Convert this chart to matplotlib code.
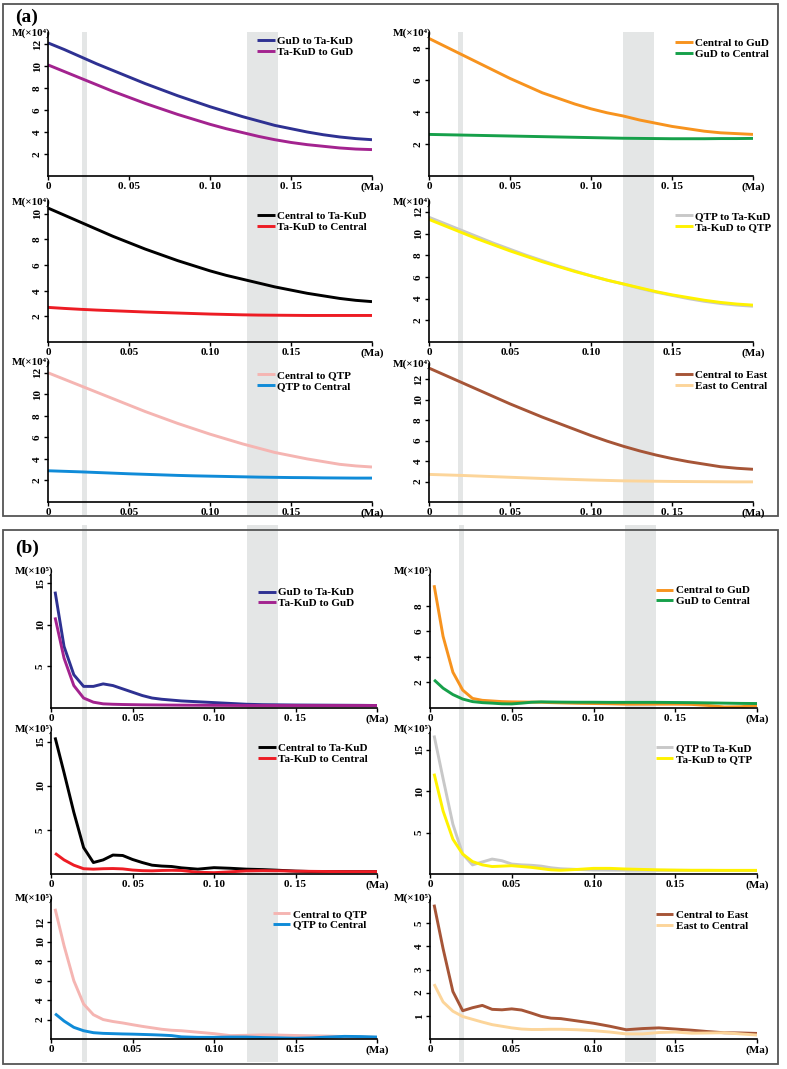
import matplotlib
matplotlib.use('Agg')
import matplotlib.pyplot as plt
from matplotlib.patches import Rectangle

plt.rcParams['font.family'] = ['Liberation Serif', 'DejaVu Serif']
plt.rcParams['font.weight'] = 'bold'

W, H = 787, 1069

# ---------------- data: panel (a) ----------------
time_a = [0.00, 0.01, 0.02, 0.03, 0.04, 0.05, 0.06, 0.07, 0.08, 0.09, 0.10,
          0.11, 0.12, 0.13, 0.14, 0.15, 0.16, 0.17, 0.18, 0.19, 0.20]

gud_to_takud_a = [12.1, 11.5, 10.85, 10.2, 9.6, 9.0, 8.4, 7.85, 7.3, 6.8, 6.3,
                  5.85, 5.4, 5.0, 4.6, 4.3, 4.0, 3.75, 3.55, 3.4, 3.3]
takud_to_gud_a = [10.1, 9.5, 8.9, 8.3, 7.7, 7.15, 6.6, 6.1, 5.6, 5.15, 4.7,
                  4.3, 3.95, 3.6, 3.3, 3.05, 2.85, 2.7, 2.55, 2.45, 2.4]
central_to_gud_a = [8.6, 8.1, 7.6, 7.1, 6.6, 6.1, 5.65, 5.2, 4.85, 4.5, 4.2,
                    3.95, 3.75, 3.5, 3.3, 3.1, 2.95, 2.8, 2.7, 2.65, 2.6]
gud_to_central_a = [2.60, 2.58, 2.56, 2.54, 2.52, 2.50, 2.48, 2.46, 2.44, 2.42, 2.40,
                    2.38, 2.36, 2.35, 2.34, 2.33, 2.33, 2.33, 2.34, 2.34, 2.35]
central_to_takud_a = [10.45, 9.9, 9.35, 8.8, 8.25, 7.75, 7.25, 6.8, 6.35, 5.95, 5.55,
                      5.2, 4.9, 4.6, 4.3, 4.05, 3.8, 3.6, 3.4, 3.25, 3.15]
takud_to_central_a = [2.70, 2.62, 2.55, 2.49, 2.44, 2.39, 2.34, 2.30, 2.26, 2.22, 2.18,
                      2.15, 2.12, 2.10, 2.09, 2.08, 2.07, 2.07, 2.07, 2.07, 2.07]
qtp_to_takud_a = [11.5, 10.9, 10.3, 9.7, 9.1, 8.55, 8.0, 7.5, 7.0, 6.55, 6.1,
                  5.7, 5.35, 4.95, 4.6, 4.3, 4.0, 3.75, 3.55, 3.4, 3.3]
takud_to_qtp_a = [11.3, 10.7, 10.1, 9.5, 8.95, 8.4, 7.9, 7.4, 6.95, 6.5, 6.1,
                  5.7, 5.35, 5.0, 4.65, 4.35, 4.1, 3.85, 3.65, 3.5, 3.4]
central_to_qtp_a = [12.0, 11.4, 10.8, 10.2, 9.6, 9.0, 8.4, 7.85, 7.3, 6.8, 6.3,
                    5.85, 5.4, 5.0, 4.6, 4.3, 4.0, 3.75, 3.5, 3.35, 3.25]
qtp_to_central_a = [2.90, 2.85, 2.80, 2.74, 2.68, 2.62, 2.57, 2.52, 2.47, 2.43, 2.40,
                    2.37, 2.34, 2.31, 2.29, 2.27, 2.26, 2.24, 2.23, 2.22, 2.22]
central_to_east_a = [13.1, 12.4, 11.7, 11.0, 10.3, 9.6, 8.95, 8.3, 7.7, 7.1, 6.5,
                     5.95, 5.45, 5.0, 4.6, 4.25, 3.95, 3.7, 3.45, 3.3, 3.2]
east_to_central_a = [2.70, 2.65, 2.60, 2.54, 2.48, 2.42, 2.36, 2.30, 2.25, 2.20, 2.15,
                     2.11, 2.07, 2.05, 2.03, 2.01, 2.00, 1.99, 1.98, 1.97, 1.97]

# ---------------- data: panel (b) ----------------
time_b = [0.0025, 0.008, 0.014, 0.020, 0.026, 0.032, 0.038, 0.044, 0.050, 0.056,
          0.062, 0.068, 0.074, 0.080, 0.090, 0.100, 0.110, 0.120, 0.130, 0.140,
          0.150, 0.160, 0.170, 0.180, 0.190, 0.200]

gud_to_takud_b = [14.0, 7.4, 4.0, 2.6, 2.6, 2.9, 2.7, 2.3, 1.9, 1.5, 1.2, 1.05, 0.95,
                  0.85, 0.75, 0.65, 0.55, 0.45, 0.4, 0.38, 0.36, 0.35, 0.34, 0.33, 0.32, 0.3]
takud_to_gud_b = [10.9, 6.0, 2.7, 1.2, 0.7, 0.5, 0.45, 0.42, 0.4, 0.38, 0.37, 0.36, 0.35,
                  0.34, 0.33, 0.32, 0.31, 0.3, 0.3, 0.3, 0.3, 0.3, 0.3, 0.3, 0.3, 0.3]
central_to_gud_b = [9.6, 5.6, 2.8, 1.4, 0.75, 0.6, 0.55, 0.5, 0.48, 0.47, 0.46, 0.45, 0.42,
                    0.4, 0.37, 0.35, 0.33, 0.3, 0.3, 0.3, 0.3, 0.28, 0.2, 0.08, 0.1, 0.2]
gud_to_central_b = [2.2, 1.55, 1.05, 0.7, 0.5, 0.42, 0.38, 0.33, 0.32, 0.38, 0.45, 0.48, 0.47,
                    0.46, 0.45, 0.45, 0.44, 0.44, 0.44, 0.44, 0.43, 0.42, 0.4, 0.38, 0.36, 0.35]
central_to_takud_b = [15.5, 11.5, 7.0, 3.0, 1.3, 1.6, 2.15, 2.1, 1.65, 1.3, 1.0, 0.9, 0.85,
                      0.7, 0.55, 0.72, 0.65, 0.55, 0.5, 0.42, 0.33, 0.28, 0.27, 0.27, 0.27, 0.27]
takud_to_central_b = [2.35, 1.6, 1.0, 0.6, 0.55, 0.6, 0.62, 0.58, 0.45, 0.38, 0.36, 0.4, 0.42,
                      0.4, 0.2, 0.15, 0.25, 0.35, 0.38, 0.36, 0.32, 0.3, 0.28, 0.27, 0.27, 0.27]
qtp_to_takud_b = [16.7, 11.5, 6.0, 2.4, 1.1, 1.45, 1.8, 1.6, 1.2, 1.1, 1.05, 0.95, 0.75,
                  0.63, 0.55, 0.48, 0.46, 0.45, 0.45, 0.44, 0.44, 0.43, 0.43, 0.42, 0.42, 0.42]
takud_to_qtp_b = [12.1, 7.6, 4.2, 2.4, 1.5, 1.1, 0.9, 0.95, 1.0, 0.9, 0.8, 0.65, 0.5,
                  0.45, 0.55, 0.68, 0.68, 0.6, 0.55, 0.5, 0.47, 0.45, 0.45, 0.44, 0.44, 0.44]
central_to_qtp_b = [13.4, 9.6, 6.0, 3.6, 2.5, 2.0, 1.8, 1.65, 1.47, 1.3, 1.15, 1.0, 0.9,
                    0.85, 0.7, 0.55, 0.35, 0.38, 0.42, 0.4, 0.36, 0.33, 0.3, 0.25, 0.2, 0.17]
qtp_to_central_b = [2.6, 1.85, 1.2, 0.85, 0.65, 0.58, 0.55, 0.52, 0.5, 0.47, 0.44, 0.4, 0.35,
                    0.22, 0.17, 0.17, 0.2, 0.2, 0.15, 0.12, 0.08, 0.12, 0.2, 0.27, 0.25, 0.2]
central_to_east_b = [5.8, 3.9, 2.05, 1.22, 1.35, 1.45, 1.28, 1.26, 1.3, 1.25, 1.12, 0.98, 0.9,
                     0.88, 0.78, 0.68, 0.55, 0.4, 0.45, 0.48, 0.43, 0.38, 0.32, 0.27, 0.26, 0.24]
east_to_central_b = [2.37, 1.6, 1.2, 0.97, 0.85, 0.73, 0.62, 0.55, 0.48, 0.43, 0.41, 0.41, 0.42,
                     0.42, 0.4, 0.36, 0.3, 0.22, 0.22, 0.28, 0.3, 0.25, 0.26, 0.27, 0.22, 0.17]

x_ticks = [0, 0.05, 0.10, 0.15, 0.20]
x_labels_sp = ['0', '0. 05', '0. 10', '0. 15', '(Ma)']
x_labels_ns = ['0', '0.05', '0.10', '0.15', '(Ma)']

C = {
    'gud_takud': '#2e3192', 'takud_gud': '#a3238f',
    'central_gud': '#f7931e', 'gud_central': '#16a04a',
    'central_takud': '#000000', 'takud_central': '#ed1c24',
    'qtp_takud': '#c8c8c8', 'takud_qtp': '#fff200',
    'central_qtp': '#f5b5b2', 'qtp_central': '#0f8bd8',
    'central_east': '#a65537', 'east_central': '#fcd59a',
}

panels = [
    # panel (a)
    dict(box=(48, 372, 33, 176), ytop=13.0, yt=[2, 4, 6, 8, 10, 12], x=time_a,
         s=[(gud_to_takud_a, 'GuD to Ta-KuD', 'gud_takud'), (takud_to_gud_a, 'Ta-KuD to GuD', 'takud_gud')],
         leg=(0.645, 0.95), xl=x_labels_sp, sup='⁴', mdy=0),
    dict(box=(429, 753, 33, 176), ytop=8.94, yt=[2, 4, 6, 8], x=time_a,
         s=[(central_to_gud_a, 'Central to GuD', 'central_gud'), (gud_to_central_a, 'GuD to Central', 'gud_central')],
         leg=(0.76, 0.94), xl=x_labels_sp, sup='⁴', mdy=0),
    dict(box=(48, 372, 201, 342), ytop=11.0, yt=[2, 4, 6, 8, 10], x=time_a,
         s=[(central_to_takud_a, 'Central to Ta-KuD', 'central_takud'), (takud_to_central_a, 'Ta-KuD to Central', 'takud_central')],
         leg=(0.645, 0.90), xl=x_labels_ns, sup='⁴', mdy=-1),
    dict(box=(429, 753, 201, 342), ytop=13.0, yt=[2, 4, 6, 8, 10, 12], x=time_a,
         s=[(qtp_to_takud_a, 'QTP to Ta-KuD', 'qtp_takud'), (takud_to_qtp_a, 'Ta-KuD to QTP', 'takud_qtp')],
         leg=(0.76, 0.90), xl=x_labels_ns, sup='⁴', mdy=-1),
    dict(box=(48, 372, 362, 502), ytop=13.0, yt=[2, 4, 6, 8, 10, 12], x=time_a,
         s=[(central_to_qtp_a, 'Central to QTP', 'central_qtp'), (qtp_to_central_a, 'QTP to Central', 'qtp_central')],
         leg=(0.645, 0.915), xl=x_labels_ns, sup='⁴', mdy=0),
    dict(box=(429, 753, 364, 502), ytop=13.5, yt=[2, 4, 6, 8, 10, 12], x=time_a,
         s=[(central_to_east_a, 'Central to East', 'central_east'), (east_to_central_a, 'East to Central', 'east_central')],
         leg=(0.76, 0.93), xl=x_labels_sp, sup='⁴', mdy=0),
    # panel (b)
    dict(box=(51, 377, 575, 708), ytop=16.0, yt=[5, 10, 15], x=time_b,
         s=[(gud_to_takud_b, 'GuD to Ta-KuD', 'gud_takud'), (takud_to_gud_b, 'Ta-KuD to GuD', 'takud_gud')],
         leg=(0.635, 0.88), xl=x_labels_sp, sup='⁵', mdy=2.5),
    dict(box=(430, 757, 575, 708), ytop=10.4, yt=[2, 4, 6, 8], x=time_b,
         s=[(central_to_gud_b, 'Central to GuD', 'central_gud'), (gud_to_central_b, 'GuD to Central', 'gud_central')],
         leg=(0.69, 0.895), xl=x_labels_sp, sup='⁵', mdy=2.5),
    dict(box=(51, 377, 733, 874), ytop=16.0, yt=[5, 10, 15], x=time_b,
         s=[(central_to_takud_b, 'Central to Ta-KuD', 'central_takud'), (takud_to_central_b, 'Ta-KuD to Central', 'takud_central')],
         leg=(0.635, 0.90), xl=x_labels_sp, sup='⁵', mdy=2.5),
    dict(box=(430, 757, 733, 874), ytop=17.0, yt=[5, 10, 15], x=time_b,
         s=[(qtp_to_takud_b, 'QTP to Ta-KuD', 'qtp_takud'), (takud_to_qtp_b, 'Ta-KuD to QTP', 'takud_qtp')],
         leg=(0.69, 0.90), xl=x_labels_ns, sup='⁵', mdy=2.5),
    dict(box=(51, 377, 900, 1039), ytop=14.3, yt=[2, 4, 6, 8, 10, 12], x=time_b,
         s=[(central_to_qtp_b, 'Central to QTP', 'central_qtp'), (qtp_to_central_b, 'QTP to Central', 'qtp_central')],
         leg=(0.68, 0.91), xl=x_labels_ns, sup='⁵', mdy=1),
    dict(box=(430, 757, 900, 1039), ytop=6.0, yt=[1, 2, 3, 4, 5], x=time_b,
         s=[(central_to_east_b, 'Central to East', 'central_east'), (east_to_central_b, 'East to Central', 'east_central')],
         leg=(0.69, 0.90), xl=x_labels_ns, sup='⁵', mdy=1),
]

bands = [
    dict(box=(48, 372, 32, 515), spans=[(0.021, 0.024), (0.123, 0.142)]),
    dict(box=(429, 753, 32, 515), spans=[(0.018, 0.021), (0.120, 0.139)]),
    dict(box=(51, 377, 525, 1062), spans=[(0.019, 0.022), (0.120, 0.139)]),
    dict(box=(430, 757, 525, 1062), spans=[(0.0175, 0.0205), (0.119, 0.138)]),
]


def rect(b):
    x0, x1, yt, yb = b
    return [x0 / W, 1 - yb / H, (x1 - x0) / W, (yb - yt) / H]


fig = plt.figure(figsize=(W / 100, H / 100), dpi=100)

for (x0, y0, x1, y1) in [(3, 4, 778, 516), (3, 530, 778, 1064)]:
    fig.patches.append(Rectangle((x0 / W, 1 - y1 / H), (x1 - x0) / W, (y1 - y0) / H,
                                 transform=fig.transFigure, fill=False,
                                 edgecolor='#555555', linewidth=1.3, zorder=0))

for bd in bands:
    bax = fig.add_axes(rect(bd['box']), zorder=0)
    bax.set_xlim(0, 0.2)
    for a, b in bd['spans']:
        bax.axvspan(a, b, color='#e4e6e6', lw=0)
    bax.axis('off')

for p in panels:
    ax = fig.add_axes(rect(p['box']), zorder=2)
    ax.set_facecolor('none')
    for vals, lab, key in p['s']:
        ax.plot(p['x'], vals, color=C[key], lw=2.1, label=lab, solid_capstyle='butt')
    ax.set_xlim(0, 0.2)
    ax.set_ylim(0, p['ytop'])
    for sp in ['top', 'right']:
        ax.spines[sp].set_visible(False)
    for sp in ['left', 'bottom']:
        ax.spines[sp].set_linewidth(1.2)
    ax.set_xticks(x_ticks)
    ax.set_xticklabels(p['xl'], fontsize=8, fontweight='bold')
    ax.set_yticks(p['yt'])
    ax.set_yticklabels([str(v) for v in p['yt']], fontsize=8, fontweight='bold',
                       rotation=90, va='center')
    ax.tick_params(axis='both', direction='out', length=3, width=1, pad=1.5)
    ax.annotate('M(×10' + p['sup'] + ')', xy=(0, 1), xycoords='axes fraction',
                xytext=(2, p['mdy']), textcoords='offset points', ha='right', va='center',
                fontsize=8, fontweight='bold')
    ax.legend(loc='upper left', bbox_to_anchor=(p['leg'][0], p['leg'][1] + 0.025),
              frameon=False, handlelength=1.6, handletextpad=0.2,
              labelspacing=0.1, borderpad=0, borderaxespad=0,
              prop={'weight': 'bold', 'size': 8})

fig.text(15 / W, 1 - 17 / H, '(a)', fontsize=14, fontweight='bold', va='center', ha='left')
fig.text(15 / W, 1 - 548 / H, '(b)', fontsize=14, fontweight='bold', va='center', ha='left')

fig.savefig('out.png', dpi=100)
